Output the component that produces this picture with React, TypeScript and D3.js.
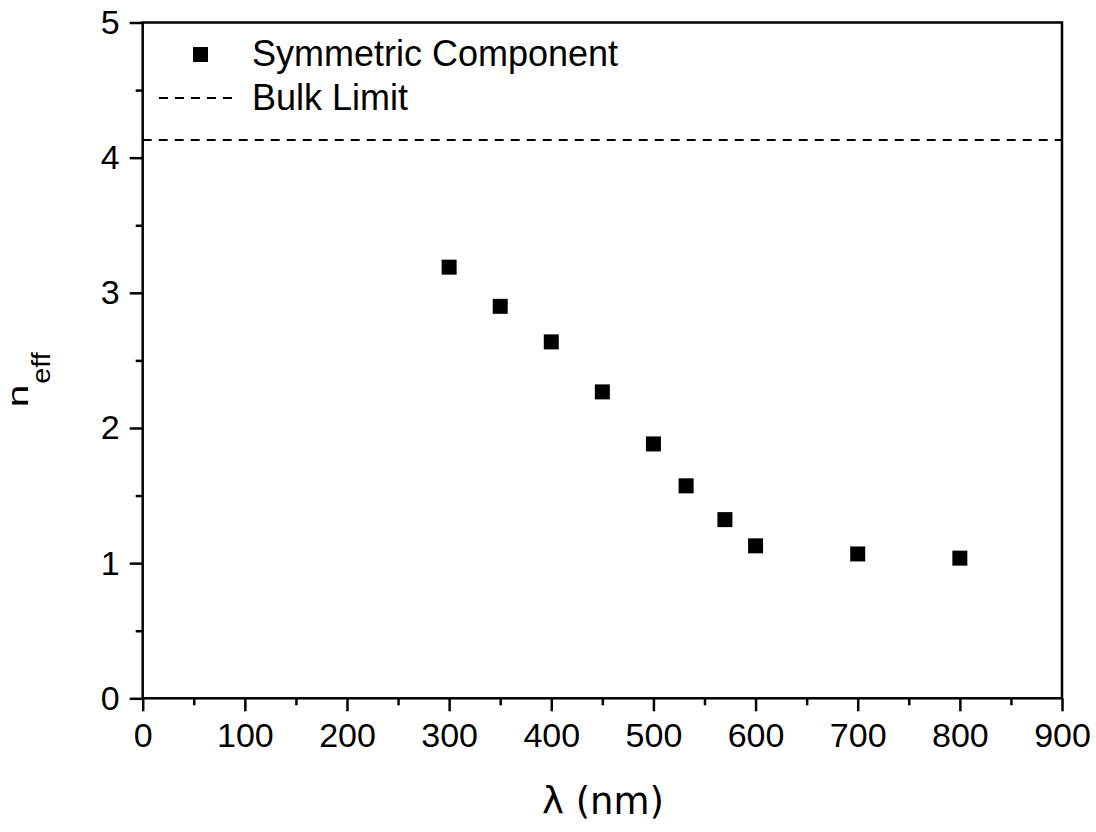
import React, { useEffect, useRef } from "react";
import * as d3 from "d3";

const wavelengths = [300, 350, 400, 450, 500, 532, 570, 600, 700, 800];
const nEff = [3.19, 2.9, 2.637, 2.267, 1.882, 1.572, 1.322, 1.128, 1.068, 1.037];
const bulkLimit = 4.13;
const xTicks = [0, 100, 200, 300, 400, 500, 600, 700, 800, 900];
const yTicks = [0, 1, 2, 3, 4, 5];
const legendLabels = ["Symmetric Component", "Bulk Limit"];

const W = 1096;
const H = 832;
const FONT = "'Liberation Sans', Arial, Helvetica, sans-serif";
const TITLE_FONT = "'DejaVu Sans', 'Liberation Sans', sans-serif";

export default function App() {
  const ref = useRef<SVGSVGElement>(null);

  useEffect(() => {
    const svg = d3.select(ref.current);
    svg.selectAll("*").remove();

    const left = 142.7, right = 1062, top = 22.5, bottom = 698.3;
    const x = d3.scaleLinear().domain([0, 900]).range([left, right]);
    const y = d3.scaleLinear().domain([0, 5]).range([bottom, top]);

    // bulk limit dashed line
    svg.append("line")
      .attr("x1", x(0)).attr("x2", x(900))
      .attr("y1", y(bulkLimit)).attr("y2", y(bulkLimit))
      .attr("stroke", "#000").attr("stroke-width", 2)
      .attr("stroke-dasharray", "9,7");

    // frame
    svg.append("rect")
      .attr("x", left).attr("y", top)
      .attr("width", right - left).attr("height", bottom - top)
      .attr("fill", "none").attr("stroke", "#000").attr("stroke-width", 2.5);

    // x axis
    const xMinor = d3.range(50, 900, 100);
    const gx = svg.append("g").attr("transform", `translate(0,${bottom})`);
    gx.call(d3.axisBottom(x).tickValues(xMinor).tickSize(7).tickFormat(() => ""));
    gx.select(".domain").remove();
    const gx2 = svg.append("g").attr("transform", `translate(0,${bottom})`);
    gx2.call(d3.axisBottom(x).tickValues(xTicks).tickSize(13).tickPadding(12).tickFormat(d3.format("d")));
    gx2.select(".domain").remove();
    gx2.selectAll("text").attr("font-family", FONT).attr("font-size", 34).attr("fill", "#000");

    // y axis
    const yMinor = d3.range(0.5, 5, 1);
    const gy = svg.append("g").attr("transform", `translate(${left},0)`);
    gy.call(d3.axisLeft(y).tickValues(yMinor).tickSize(7).tickFormat(() => ""));
    gy.select(".domain").remove();
    const gy2 = svg.append("g").attr("transform", `translate(${left},0)`);
    gy2.call(d3.axisLeft(y).tickValues(yTicks).tickSize(13).tickPadding(10).tickFormat(d3.format("d")));
    gy2.select(".domain").remove();
    gy2.selectAll("text").attr("font-family", FONT).attr("font-size", 34).attr("fill", "#000");
    svg.selectAll("g.tick line").attr("stroke-width", 2.5).attr("stroke", "#000");

    // markers
    const s = 15;
    svg.append("g").selectAll("rect")
      .data(wavelengths.map((w, i) => [w, nEff[i]]))
      .join("rect")
      .attr("x", d => x(d[0]) - s / 2)
      .attr("y", d => y(d[1]) - s / 2)
      .attr("width", s).attr("height", s)
      .attr("fill", "#000");

    // legend
    svg.append("rect")
      .attr("x", 200.5 - s / 2).attr("y", 54.5 - s / 2)
      .attr("width", s).attr("height", s).attr("fill", "#000");
    svg.append("text").attr("x", 252).attr("y", 65.5)
      .attr("font-family", FONT).attr("font-size", 36).attr("fill", "#000")
      .text(legendLabels[0]);
    svg.append("line")
      .attr("x1", 159).attr("x2", 237).attr("y1", 98).attr("y2", 98)
      .attr("stroke", "#000").attr("stroke-width", 2).attr("stroke-dasharray", "9,7");
    svg.append("text").attr("x", 252).attr("y", 110)
      .attr("font-family", FONT).attr("font-size", 36).attr("fill", "#000")
      .text(legendLabels[1]);

    // axis titles
    svg.append("text")
      .attr("x", 603).attr("y", 814)
      .attr("text-anchor", "middle")
      .attr("font-family", TITLE_FONT).attr("font-size", 37).attr("fill", "#000")
      .text("λ (nm)");

    svg.append("text")
      .attr("transform", `translate(27.5,396) rotate(-90) scale(1.4,1)`)
      .attr("text-anchor", "middle")
      .attr("font-family", FONT).attr("font-size", 29).attr("fill", "#000")
      .text("n");
    svg.append("text")
      .attr("transform", `translate(50,368) rotate(-90) scale(1.15,1)`)
      .attr("text-anchor", "middle")
      .attr("font-family", FONT).attr("font-size", 25).attr("fill", "#000")
      .text("eff");
  }, []);

  return (
    <div style={{ position: "absolute", left: 0, top: 0 }}>
      <svg ref={ref} width={W} height={H} style={{ display: "block", background: "#fff" }} />
    </div>
  );
}
